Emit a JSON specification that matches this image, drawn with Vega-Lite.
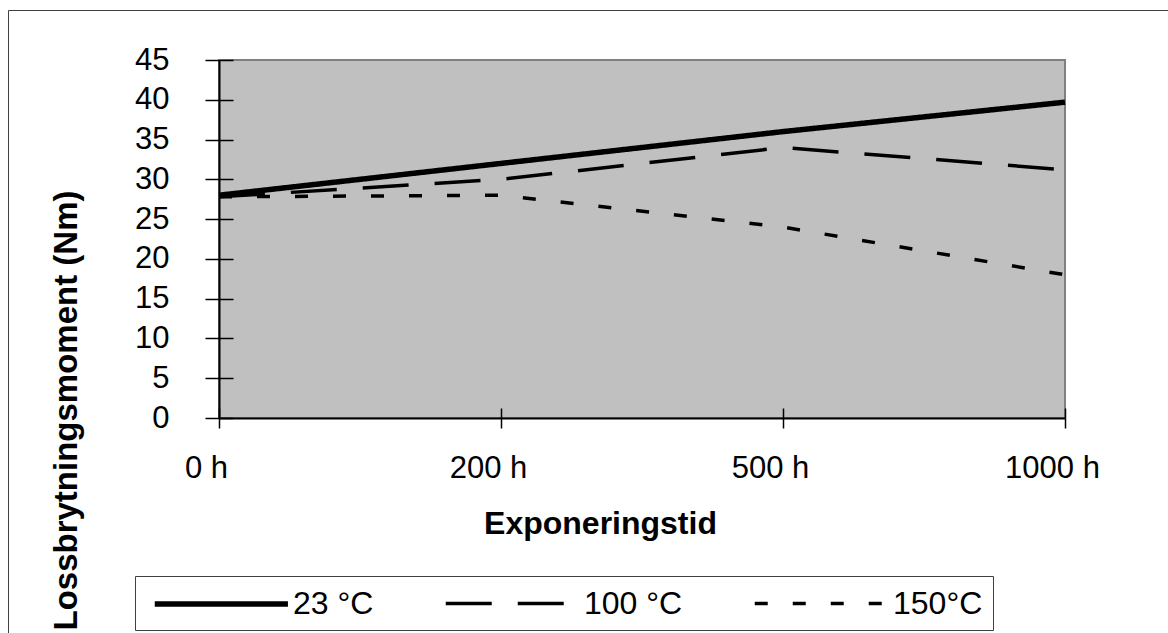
{
  "$schema": "https://vega.github.io/schema/vega-lite/v6.json",
  "width": 846,
  "height": 358,
  "autosize": "none",
  "padding": {"left": 219, "top": 60, "right": 103, "bottom": 215},
  "background": "white",
  "config": {
    "view": {"fill": "#c0c0c0", "stroke": "#808080", "strokeWidth": 2},
    "font": "Liberation Sans",
    "axis": {
      "grid": false,
      "labelFont": "Liberation Sans",
      "labelColor": "black",
      "labelFontSize": 31,
      "titleFont": "Liberation Sans",
      "titleFontSize": 32,
      "titleFontWeight": "bold",
      "titleColor": "black",
      "tickColor": "black",
      "tickWidth": 1.5,
      "domainColor": "black",
      "domainWidth": 2
    },
    "legend": {
      "labelFont": "Liberation Sans",
      "labelFontSize": 32,
      "labelColor": "black"
    }
  },
  "data": {
    "values": [
      {"t": "0 h", "s": "23 °C", "v": 28},
      {"t": "200 h", "s": "23 °C", "v": 32},
      {"t": "500 h", "s": "23 °C", "v": 36},
      {"t": "1000 h", "s": "23 °C", "v": 39.7},
      {"t": "0 h", "s": "100 °C", "v": 27.8},
      {"t": "200 h", "s": "100 °C", "v": 30},
      {"t": "500 h", "s": "100 °C", "v": 34},
      {"t": "1000 h", "s": "100 °C", "v": 31.2},
      {"t": "0 h", "s": "150°C", "v": 27.8},
      {"t": "200 h", "s": "150°C", "v": 28},
      {"t": "500 h", "s": "150°C", "v": 24},
      {"t": "1000 h", "s": "150°C", "v": 18}
    ]
  },
  "layer": [
    {
      "mark": {"type": "line", "color": "black", "strokeCap": "butt", "strokeJoin": "miter"},
      "encoding": {
        "x": {
          "field": "t", "type": "ordinal",
          "sort": ["0 h", "200 h", "500 h", "1000 h"],
          "scale": {"type": "point", "padding": 0},
          "axis": {
            "orient": "bottom",
            "labelAngle": 0,
            "tickSize": 10,
            "labelBaseline": "alphabetic",
            "labelPadding": 49,
            "labelOffset": -13,
            "title": "Exponeringstid",
            "titleX": 381,
            "titleY": 115,
            "titleBaseline": "alphabetic",
            "titleAlign": "center"
          }
        },
        "y": {
          "field": "v", "type": "quantitative",
          "scale": {"domain": [0, 45], "nice": false},
          "axis": {
            "orient": "left",
            "values": [0, 5, 10, 15, 20, 25, 30, 35, 40, 45],
            "tickSize": 14,
            "labelPadding": 36,
            "title": "Lossbrytningsmoment (Nm)",
            "titleFontSize": 33,
            "titleX": -143,
            "titleY": 350,
            "titleBaseline": "alphabetic",
            "titleAlign": "center",
            "titleAngle": 270
          }
        },
        "strokeDash": {
          "field": "s", "type": "nominal",
          "scale": {"domain": ["23 °C", "100 °C", "150°C"], "range": [[1, 0], [46, 26], [13, 25]]},
          "legend": {
            "title": null,
            "orient": "none",
            "legendX": -84,
            "legendY": 516,
            "direction": "horizontal",
            "columns": 3,
            "symbolType": "M-0.55,0H8.33",
            "symbolSize": 900,
            "symbolStrokeColor": "black",
            "labelOffset": 112,
            "columnPadding": 62,
            "padding": 10,
            "strokeColor": "#404040",
            "fillColor": "white"
          }
        },
        "strokeWidth": {
          "field": "s", "type": "nominal",
          "scale": {"type": "ordinal", "domain": ["23 °C", "100 °C", "150°C"], "range": [5.5, 3.5, 3.5]},
          "legend": {
            "title": null,
            "orient": "none",
            "legendX": -84,
            "legendY": 516,
            "direction": "horizontal",
            "columns": 3,
            "symbolType": "M-0.55,0H8.33",
            "symbolSize": 900,
            "symbolStrokeColor": "black",
            "labelOffset": 112,
            "columnPadding": 62,
            "padding": 10,
            "strokeColor": "#404040",
            "fillColor": "white"
          }
        }
      }
    },
    {
      "mark": {"type": "line", "opacity": 0},
      "encoding": {
        "x": {
          "field": "t", "type": "ordinal",
          "sort": ["0 h", "200 h", "500 h", "1000 h"],
          "scale": {"type": "point", "padding": 0},
          "axis": {"orient": "bottom", "labels": false, "domain": false, "title": null, "tickSize": 10, "offset": -10}
        },
        "y": {
          "field": "v", "type": "quantitative",
          "scale": {"domain": [0, 45], "nice": false},
          "axis": {"orient": "left", "values": [0, 5, 10, 15, 20, 25, 30, 35, 40, 45], "labels": false, "domain": false, "title": null, "tickSize": 14, "offset": -14}
        },
        "detail": {"field": "s", "type": "nominal"},
        "opacity": {
          "field": "t", "type": "nominal",
          "scale": {"type": "ordinal", "range": [0, 0, 0, 0]},
          "legend": {
            "title": null,
            "orient": "none",
            "legendX": -211,
            "legendY": -50,
            "direction": "vertical",
            "symbolType": "square",
            "symbolSize": 1500000,
            "symbolOpacity": 0,
            "symbolStrokeWidth": 0,
            "labelFontSize": 1,
            "labelOpacity": 0,
            "labelExpr": "''",
            "rowPadding": 0,
            "padding": 0,
            "strokeColor": "#404040",
            "fillColor": "transparent",
            "zindex": 0
          }
        }
      }
    }
  ],
  "resolve": {"axis": {"x": "independent", "y": "independent"}}
}
